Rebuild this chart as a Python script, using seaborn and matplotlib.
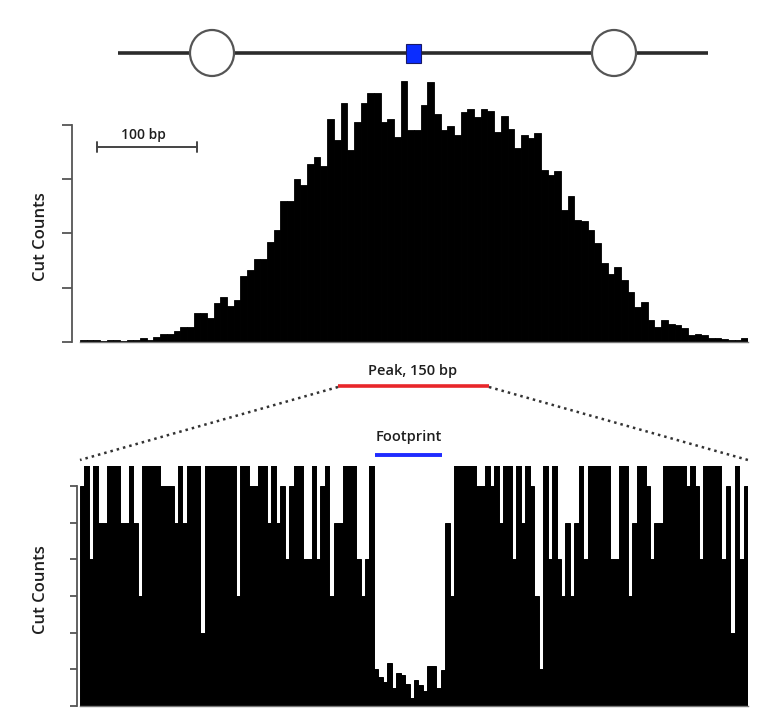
import numpy as np
import pandas as pd
import matplotlib
matplotlib.use("Agg")
import matplotlib.pyplot as plt
import seaborn as sns
from matplotlib.patches import Ellipse, Rectangle

# ---------------- data ----------------
top_positions = list(range(100))
top_counts = [
    0.03, 0.03, 0.03, 0.02, 0.03, 0.03, 0.02, 0.03, 0.03, 0.07,
    0.03, 0.10, 0.15, 0.15, 0.20, 0.27, 0.27, 0.54, 0.54, 0.44,
    0.71, 0.82, 0.67, 0.77, 1.22, 1.33, 1.52, 1.52, 1.85, 2.07,
    2.60, 2.60, 3.01, 2.89, 3.28, 3.41, 3.24, 4.10, 3.72, 4.41,
    3.54, 4.05, 4.40, 4.59, 4.59, 4.06, 4.11, 3.78, 4.81, 3.90,
    3.90, 4.36, 4.78, 4.19, 3.90, 3.97, 3.81, 4.24, 4.30, 4.15,
    4.30, 4.25, 3.87, 4.16, 3.93, 3.57, 3.81, 3.75, 3.84, 3.17,
    3.08, 3.14, 2.44, 2.68, 2.25, 2.22, 2.06, 1.82, 1.45, 1.26,
    1.39, 1.14, 0.93, 0.64, 0.74, 0.41, 0.28, 0.41, 0.34, 0.31,
    0.25, 0.13, 0.14, 0.13, 0.07, 0.08, 0.05, 0.04, 0.03, 0.07,
]

bottom_positions = list(range(150))
bottom_counts = [
    6, 7, 4, 7, 5, 5, 7, 7, 7, 5,
    5, 7, 5, 3, 7, 7, 7, 7, 6, 6,
    6, 5, 7, 5, 7, 7, 7, 2, 7, 7,
    7, 7, 7, 7, 7, 3, 7, 7, 6, 6,
    7, 7, 5, 7, 5, 6, 4, 6, 7, 7,
    4, 4, 7, 4, 6, 7, 3, 5, 5, 7,
    7, 7, 4, 3, 4, 7, 1.00, 0.78, 0.66, 1.18,
    0.50, 0.89, 0.85, 0.60, 0.22, 0.70, 0.58, 0.42, 1.08, 1.08,
    0.50, 0.99, 5, 3, 7, 7, 7, 7, 7, 6,
    6, 7, 6, 7, 5, 7, 7, 4, 7, 5,
    7, 6, 3, 1, 7, 4, 7, 4, 3, 5,
    3, 5, 7, 4, 7, 7, 7, 7, 7, 4,
    4, 7, 7, 3, 5, 7, 7, 6, 4, 5,
    5, 7, 7, 7, 7, 7, 6, 7, 6, 4,
    7, 7, 7, 7, 4, 6, 2, 7, 4, 6,
]

top_yticks = [0, 1, 2, 3, 4]
bottom_yticks = [0, 1, 2, 3, 4, 5, 6]
y_label = "Cut Counts"
scale_label = "100 bp"
peak_label = "Peak, 150 bp"
footprint_label = "Footprint"

# ---------------- style ----------------
sns.set_style("ticks")
plt.rcParams['font.family'] = ['Open Sans', 'DejaVu Sans']

W, H = 764, 711
fig = plt.figure(figsize=(W / 100, H / 100), dpi=100)
fig.patch.set_facecolor("white")


def box(x0, y0, x1, y1):
    return [x0 / W, 1 - y1 / H, (x1 - x0) / W, (y1 - y0) / H]


axis_col = "#555555"
txt_col = "#1e1e1e"

# ---------------- top panel ----------------
ax1 = fig.add_axes(box(80, 75, 748, 342))
df_top = pd.DataFrame({"pos": top_positions, "count": top_counts})
sns.barplot(data=df_top, x="pos", y="count", color="black", saturation=1,
            width=1.0, edgecolor="black", linewidth=0.6, ax=ax1)
ax1.set_xlim(-0.5, len(top_positions) - 0.5)
ax1.set_ylim(0, 267 / 54.3)
ax1.set_xticks([])
ax1.set_yticks(top_yticks)
ax1.set_yticklabels([])
ax1.set_xlabel("")
ax1.set_ylabel("")
for s in ["top", "right"]:
    ax1.spines[s].set_visible(False)
ax1.spines["left"].set_position(("outward", 6))
ax1.spines["left"].set_bounds(0, 4)
ax1.spines["left"].set_color(axis_col)
ax1.spines["left"].set_linewidth(1.3)
ax1.spines["bottom"].set_color("#777777")
ax1.spines["bottom"].set_linewidth(1.0)
ax1.tick_params(axis="y", left=True, direction="out", length=7, width=1.3, color=axis_col)
ax1.tick_params(axis="x", bottom=False)
ax1.patch.set_alpha(0)

# ---------------- bottom panel ----------------
ax2 = fig.add_axes(box(80, 466, 748, 706))
df_bot = pd.DataFrame({"pos": bottom_positions, "count": bottom_counts})
sns.barplot(data=df_bot, x="pos", y="count", color="black", saturation=1,
            width=1.0, edgecolor="black", linewidth=0.7, ax=ax2)
ax2.set_xlim(-0.5, len(bottom_positions) - 0.5)
ax2.set_ylim(0, 240 / 36.67)
ax2.set_xticks([])
ax2.set_yticks(bottom_yticks)
ax2.set_yticklabels([])
ax2.set_xlabel("")
ax2.set_ylabel("")
for s in ["top", "right"]:
    ax2.spines[s].set_visible(False)
ax2.spines["left"].set_position(("outward", 2))
ax2.spines["left"].set_bounds(0, 6)
ax2.spines["left"].set_color(axis_col)
ax2.spines["left"].set_linewidth(1.3)
ax2.spines["bottom"].set_color("#777777")
ax2.spines["bottom"].set_linewidth(1.0)
ax2.tick_params(axis="y", left=True, direction="out", length=5, width=1.3, color=axis_col)
ax2.tick_params(axis="x", bottom=False)
ax2.patch.set_alpha(0)

# ---------------- overlay annotations (pixel coordinates) ----------------
ov = fig.add_axes([0, 0, 1, 1], zorder=5)
ov.set_xlim(0, W)
ov.set_ylim(H, 0)
ov.axis("off")
ov.patch.set_alpha(0)

# nucleosome / TF diagram
ov.plot([118, 708], [53, 53], color="#2b2b2b", lw=2.6, solid_capstyle="butt")
for cx in (212, 614):
    ov.add_patch(Ellipse((cx, 53), 44, 46, facecolor="white", edgecolor="#555555", lw=1.6, zorder=3))
ov.add_patch(Rectangle((406, 44), 15, 19, facecolor="#0b2dff", edgecolor="#1a1a66", lw=0.8, zorder=4))

# scale bar
ov.plot([97, 197], [147, 147], color="#444444", lw=1.4)
ov.plot([97, 97], [142, 152], color="#444444", lw=1.4)
ov.plot([197, 197], [142, 152], color="#444444", lw=1.4)
ov.text(143, 135, scale_label, ha="center", va="center", fontsize=10,
        fontweight="semibold", color=txt_col)

# peak annotation
ov.text(413, 371, peak_label, ha="center", va="center", fontsize=10.5,
        fontweight="semibold", color=txt_col)
ov.plot([338, 489], [386, 386], color="#e8262a", lw=2.6, solid_capstyle="butt")
ov.plot([338, 80], [387, 460], color="#333333", lw=1.8, ls=(0, (1, 1.6)))
ov.plot([489, 748], [387, 460], color="#333333", lw=1.8, ls=(0, (1, 1.6)))

# footprint annotation
ov.text(409, 437, footprint_label, ha="center", va="center", fontsize=10.5,
        fontweight="semibold", color=txt_col)
ov.plot([375, 442], [455, 455], color="#1f2bff", lw=2.8, solid_capstyle="butt")

# axis labels
fig.text(41 / W, 1 - 237 / H, y_label, rotation=90, ha="center", va="center",
         fontsize=12, fontweight="semibold", color=txt_col)
fig.text(41 / W, 1 - 590 / H, y_label, rotation=90, ha="center", va="center",
         fontsize=12, fontweight="semibold", color=txt_col)

fig.savefig("out.png", dpi=100, facecolor="white")
